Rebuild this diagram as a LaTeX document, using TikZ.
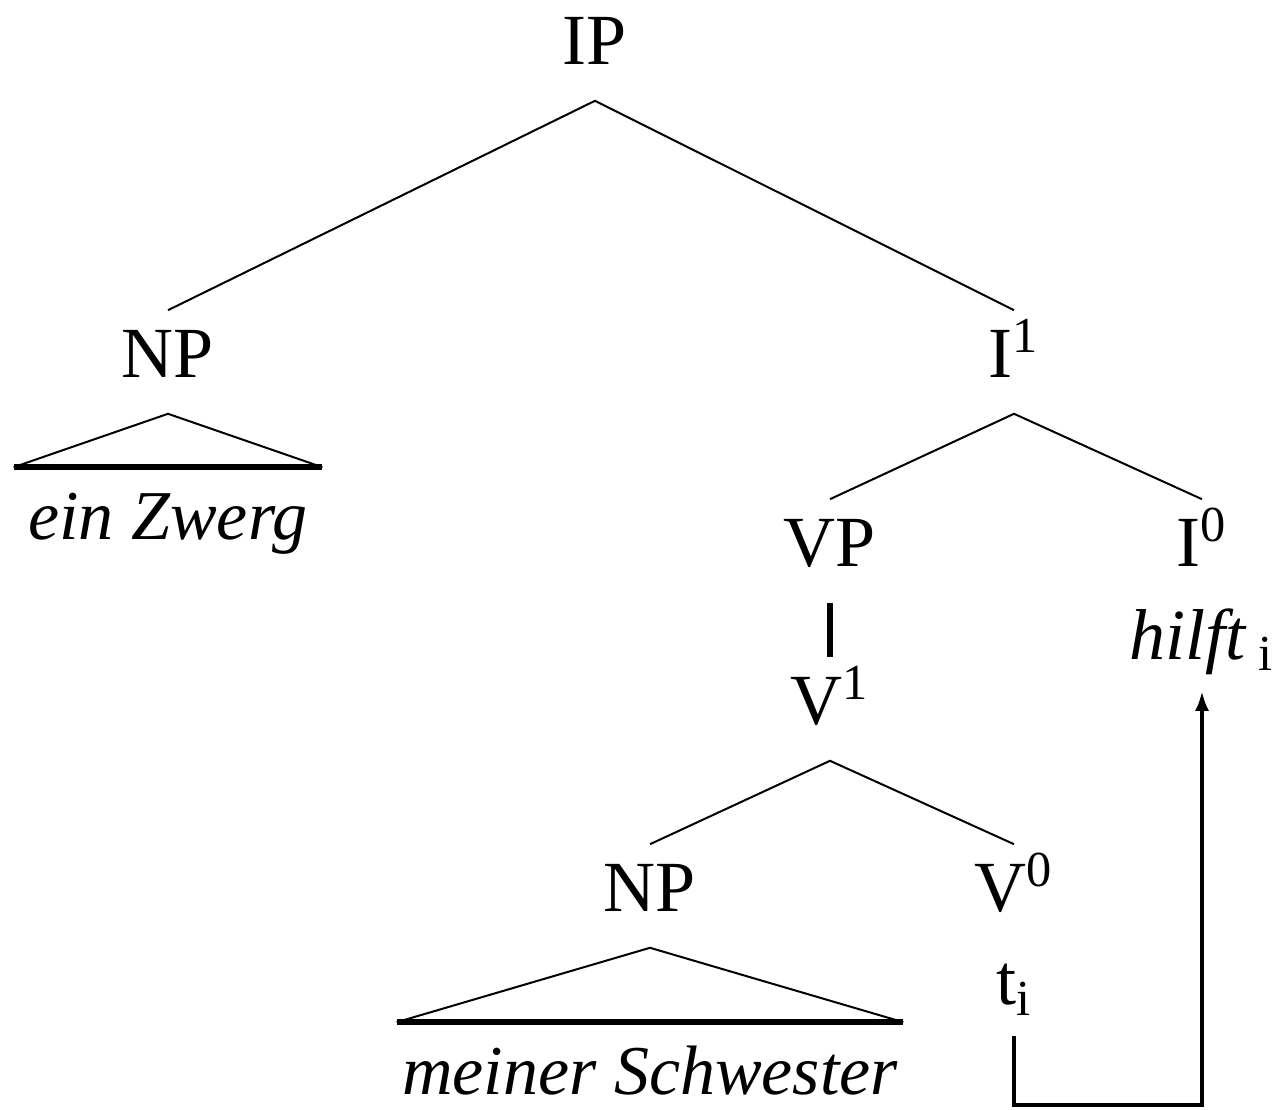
\documentclass[tikz,border=0pt]{standalone}
\usepackage{fontspec}
\setmainfont{Liberation Serif}
\usepackage{tikz}
\usetikzlibrary{arrows.meta, positioning}

\begin{document}
\begin{tikzpicture}[x=0.25pt, y=0.25pt, on grid,
    every node/.style={font=\fontsize{18}{21}\selectfont},
    cat/.style={inner sep=0pt, text height=16.75pt, text depth=8.75pt},
    leaf/.style={inner sep=0pt, text height=18pt, text depth=7.5pt},
    roof/.style={leaf, font=\fontsize{17.5}{21}\selectfont\itshape},
    branch/.style={line width=0.5pt},
    base/.style={line width=1.5pt},
    move/.style={line width=1pt, -{Latex[length=5pt, width=3.5pt]}}]

    \useasboundingbox (0,0) rectangle (1287,-1110);

    % categories
    \node[cat, anchor=base] (IP) at (595,-65) {IP};
    \node[cat, below left=313 and 427 of IP] (NP) {NP};
    \node[cat, below right=313 and 419 of IP] (I1) {I\textsuperscript{1}};
    \node[cat, below left=189 and 184 of I1] (VP) {VP};
    \node[cat, below right=189 and 188 of I1] (I0) {I\textsuperscript{0}};
    \node[cat, below=158 of VP] (V1) {V\textsuperscript{1}};
    \node[cat, below left=187 and 180 of V1] (NPb) {NP};
    \node[cat, below right=187 and 184 of V1] (V0) {V\textsuperscript{0}};

    % words
    \node[roof, minimum width=76.75pt, below=157 of NP] (zwerg) {ein Zwerg};
    \node[roof, minimum width=126.25pt, below=178 of NPb] (schwester) {meiner Schwester};
    \node[leaf, below=88 of I0] (hilft) {\textit{hilft}\,\textsubscript{i}};
    \node[leaf, below=88 of V0] (trace) {t\textsubscript{i}};

    % branches
    \draw[branch] (NP.north) -- (IP.south) -- (I1.north);
    \draw[branch] (VP.north) -- (I1.south) -- (I0.north);
    \draw[line width=1.5pt] (VP.south) -- (V1.north);
    \draw[branch] (NPb.north) -- (V1.south) -- (V0.north);

    % roofs
    \draw[branch] (zwerg.north west) -- (NP.south) -- (zwerg.north east);
    \draw[base] (zwerg.north west) -- (zwerg.north east);
    \draw[branch] (schwester.north west) -- (NPb.south) -- (schwester.north east);
    \draw[base] (schwester.north west) -- (schwester.north east);

    % head movement
    \draw[move] (trace.south) -- ++(0,-69) -| (hilft.south);

\end{tikzpicture}
\end{document}
